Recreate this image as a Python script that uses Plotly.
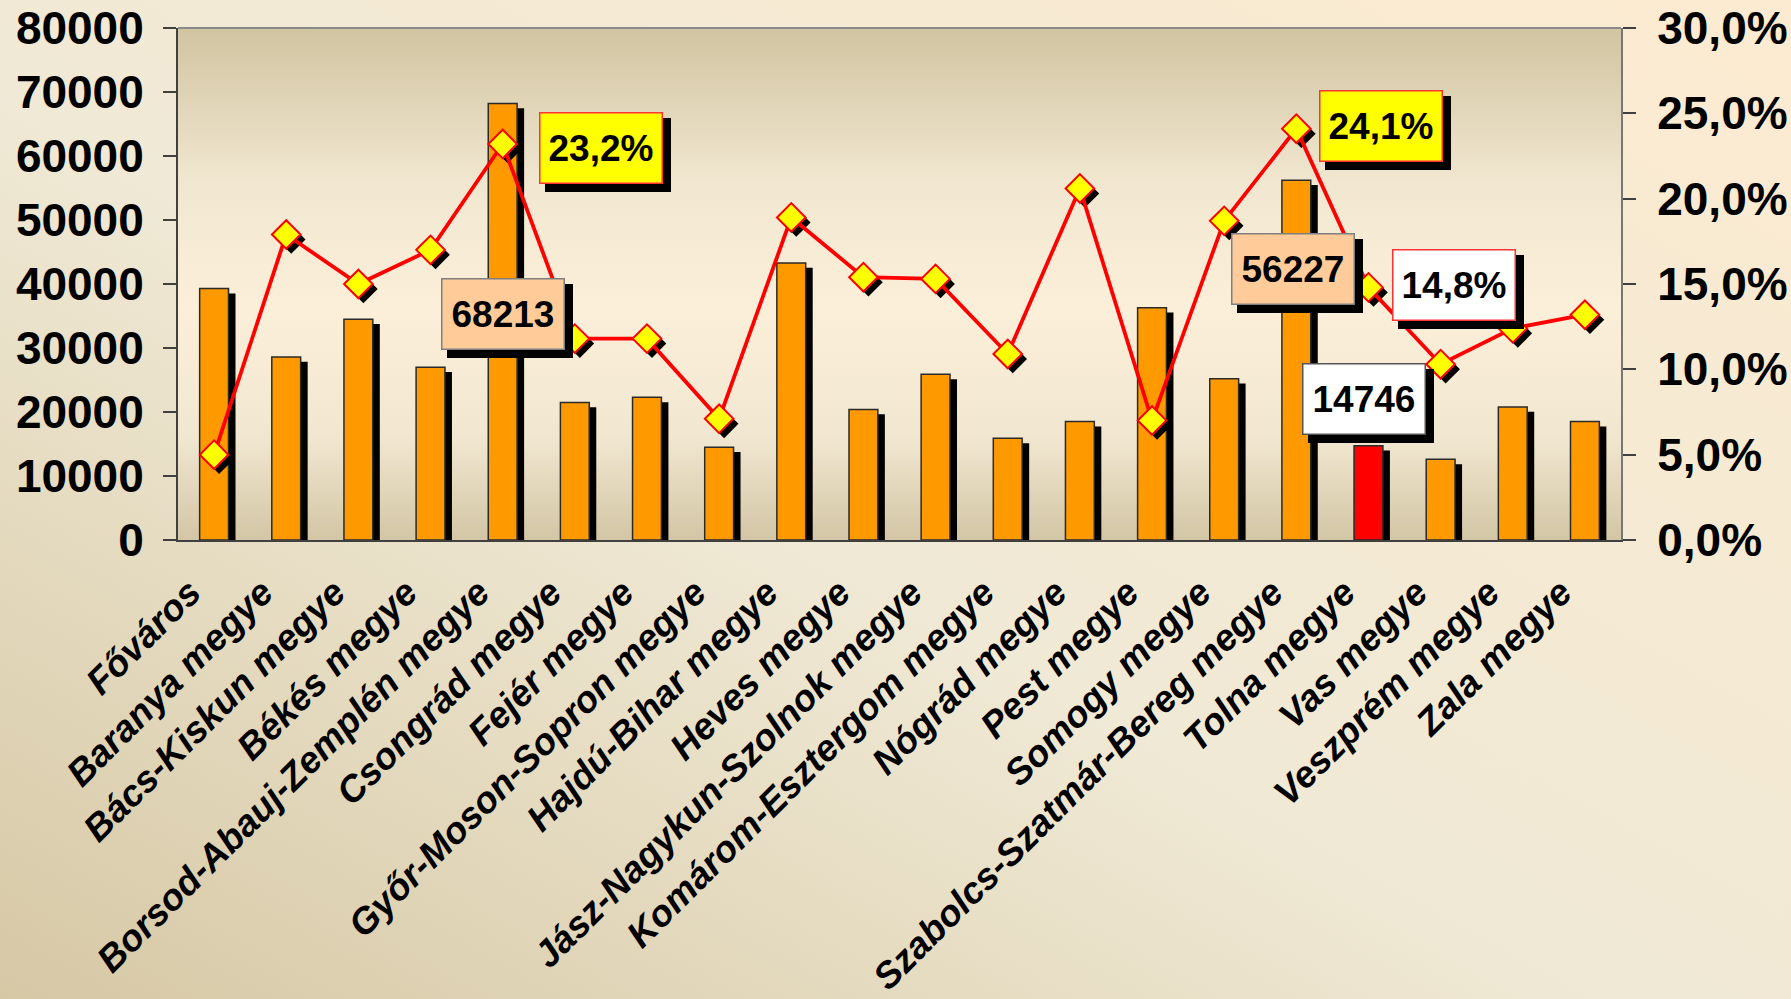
import base64
import plotly.graph_objects as go

# ==========================================
# Dados
# ==========================================

megyek = [
    'Főváros', 'Baranya megye', 'Bács-Kiskun megye', 'Békés megye',
    'Borsod-Abauj-Zemplén megye', 'Csongrád megye', 'Fejér megye',
    'Győr-Moson-Sopron megye', 'Hajdú-Bihar megye', 'Heves megye',
    'Jász-Nagykun-Szolnok megye', 'Komárom-Esztergom megye', 'Nógrád megye',
    'Pest megye', 'Somogy megye', 'Szabolcs-Szatmár-Bereg megye',
    'Tolna megye', 'Vas megye', 'Veszprém megye', 'Zala megye',
]

letszam = [
    39300, 28600, 34500, 27000, 68213, 21500, 22300, 14500, 43300, 20400,
    25900, 15900, 18500, 36300, 25200, 56227, 14746, 12600, 20800, 18500,
]

arany = [
    5.0, 17.9, 15.0, 17.0, 23.2, 11.8, 11.8, 7.1, 18.9, 15.4,
    15.3, 10.9, 20.6, 7.0, 18.7, 24.1, 14.8, 10.3, 12.4, 13.2,
]

kiemelt = 'Tolna megye'

bal_tengely = [0, 10000, 20000, 30000, 40000, 50000, 60000, 70000, 80000]
jobb_tengely = [0, 5, 10, 15, 20, 25, 30]
jobb_cimkek = [f'{v:.1f}%'.replace('.', ',') for v in jobb_tengely]

# ==========================================
# Stílus
# ==========================================

W, H = 1791, 999
M_L, M_R, M_T, M_B = 178, 170, 28, 459
PLOT_W = W - M_L - M_R
PLOT_H = H - M_T - M_B
N = len(megyek)
KAT_PX = PLOT_W / N

FONT = 'Liberation Sans, Arial, sans-serif'
NARANCS = '#FF9900'
PIROS = '#FF0000'
TENGELY = '#404040'

# árnyék eltolás pixelben
ARNYEK_BAR = 7
ARNYEK_PONT = 5
# kategória feliratok eltolása balra (pixel)
FELIRAT_BALRA = 24


def svg_kep(svg):
    return 'data:image/svg+xml;base64,' + base64.b64encode(svg.encode('utf-8')).decode('ascii')


hatter_lap = svg_kep(
    '<svg xmlns="http://www.w3.org/2000/svg" width="100" height="100" viewBox="0 0 100 100" '
    'preserveAspectRatio="none"><defs><linearGradient id="g" x1="0" y1="1" x2="1" y2="0">'
    '<stop offset="0" stop-color="#D6C8A5"/><stop offset="0.45" stop-color="#F0E9D5"/>'
    '<stop offset="1" stop-color="#FCEBD1"/></linearGradient></defs>'
    '<rect width="100" height="100" fill="url(#g)"/></svg>'
)

hatter_rajz = svg_kep(
    '<svg xmlns="http://www.w3.org/2000/svg" width="100" height="100" viewBox="0 0 100 100" '
    'preserveAspectRatio="none"><defs><linearGradient id="g" x1="0" y1="0" x2="0" y2="1">'
    '<stop offset="0" stop-color="#D1C4A1"/><stop offset="0.3" stop-color="#F1E7D0"/>'
    '<stop offset="0.55" stop-color="#FCEFD9"/><stop offset="0.8" stop-color="#F1E7D0"/>'
    '<stop offset="1" stop-color="#D3C6A6"/></linearGradient></defs>'
    '<rect width="100" height="100" fill="url(#g)"/></svg>'
)

x_pos = list(range(N))
dx_bar = ARNYEK_BAR / KAT_PX
dy_bar = ARNYEK_BAR * 0.7 * bal_tengely[-1] / PLOT_H
dx_pont = ARNYEK_PONT / KAT_PX
dy_pont = ARNYEK_PONT * jobb_tengely[-1] / PLOT_H

fig = go.Figure()

# oszlopok árnyéka
fig.add_trace(go.Bar(
    x=x_pos, y=[v - dy_bar for v in letszam],
    width=0.4, offset=-0.2 + dx_bar,
    marker=dict(color='black', line=dict(width=0)),
    hoverinfo='skip', showlegend=False,
))

# oszlopok
fig.add_trace(go.Bar(
    x=x_pos, y=letszam,
    width=0.4, offset=-0.2,
    marker=dict(
        color=[PIROS if m == kiemelt else NARANCS for m in megyek],
        line=dict(color='#2a2a2a', width=1.5),
    ),
    text=megyek, hovertemplate='%{text}<br>%{y}<extra></extra>',
    textposition='none', showlegend=False,
))

# pontok árnyéka
fig.add_trace(go.Scatter(
    x=[x + dx_pont for x in x_pos], y=[v - dy_pont for v in arany],
    yaxis='y2', mode='markers',
    marker=dict(symbol='diamond', size=22, color='black', line=dict(width=0)),
    hoverinfo='skip', showlegend=False,
))

# arány vonal
fig.add_trace(go.Scatter(
    x=x_pos, y=arany, yaxis='y2', mode='lines+markers',
    line=dict(color=PIROS, width=3.8),
    marker=dict(symbol='diamond', size=22, color='#FFFF00', line=dict(color=PIROS, width=2)),
    text=megyek, hovertemplate='%{text}<br>%{y:.1f}%<extra></extra>',
    showlegend=False,
))

# ==========================================
# Címkék (dobozok árnyékkal)
# ==========================================

cimkek = [
    # szöveg, x, y (bal tengely egységben), háttér, keret
    ('68213', 4.0, 35300, '#FFCC99', '#7F7F7F'),
    ('23,2%', 5.36, 61300, '#FFFF00', '#FF3333'),
    ('56227', 14.96, 42300, '#FFCC99', '#7F7F7F'),
    ('24,1%', 16.18, 64700, '#FFFF00', '#FF3333'),
    ('14,8%', 17.19, 39800, '#FFFFFF', '#FF3333'),
    ('14746', 15.94, 22000, '#FFFFFF', '#555555'),
]

annotations = []
for szoveg, x, y, bg, keret in cimkek:
    annotations.append(dict(
        x=x, y=y, xref='x', yref='y', text='', showarrow=False,
        width=124, height=72, bgcolor='black', borderwidth=0,
        xshift=ARNYEK_BAR, yshift=-ARNYEK_BAR,
    ))
    annotations.append(dict(
        x=x, y=y, xref='x', yref='y', text=szoveg, showarrow=False,
        width=121, height=69, bgcolor=bg, bordercolor=keret, borderwidth=1.5, borderpad=0,
        font=dict(family=FONT, size=37, color='black', weight='bold'),
    ))

tick_font = dict(family=FONT, size=46, color='black', weight='bold')
hatarok = [i - 0.5 for i in range(N + 1)]


def keresztezo_y(**kw):
    return dict(
        ticks='inside', ticklen=13, tickcolor=TENGELY, tickwidth=1.5,
        showticklabels=False, showgrid=False, zeroline=False, automargin=False, **kw
    )


fig.update_layout(
    width=W, height=H,
    margin=dict(l=M_L, r=M_R, t=M_T, b=M_B, autoexpand=False),
    paper_bgcolor='#F3EAD4',
    plot_bgcolor='rgba(0,0,0,0)',
    barmode='overlay',
    showlegend=False,
    xaxis=dict(
        range=[-0.5, N - 0.5],
        tickvals=[x - FELIRAT_BALRA / KAT_PX for x in x_pos], ticktext=megyek, tickangle=-45,
        ticks='', showgrid=False, zeroline=False, automargin=False,
        showline=True, linecolor=TENGELY, linewidth=2,
        tickfont=dict(family=FONT, size=37, color='black', weight='bold', style='italic'),
        ticklabelstandoff=14,
    ),
    xaxis2=dict(
        overlaying='x', anchor='y', range=[-0.5, N - 0.5],
        tickvals=hatarok, ticks='outside', ticklen=12,
        tickcolor=TENGELY, tickwidth=1.5, showticklabels=False, showgrid=False,
        zeroline=False, automargin=False,
    ),
    yaxis=dict(
        range=[0, bal_tengely[-1]], tickvals=bal_tengely, tickformat='d',
        ticks='outside', ticklen=13, tickcolor=TENGELY, tickwidth=1.5,
        showgrid=False, zeroline=False, showline=True, linecolor=TENGELY, linewidth=2,
        tickfont=tick_font, ticklabelstandoff=10, automargin=False,
    ),
    yaxis2=dict(
        range=[0, jobb_tengely[-1]], tickvals=jobb_tengely, ticktext=jobb_cimkek,
        overlaying='y', side='right',
        ticks='outside', ticklen=13, tickcolor=TENGELY, tickwidth=1.5,
        showgrid=False, zeroline=False, showline=True, linecolor='#777777', linewidth=2,
        tickfont=tick_font, ticklabelstandoff=12, automargin=False,
    ),
    yaxis3=keresztezo_y(range=[0, bal_tengely[-1]], tickvals=bal_tengely,
                        overlaying='y', side='left'),
    yaxis4=keresztezo_y(range=[0, jobb_tengely[-1]], tickvals=jobb_tengely,
                        overlaying='y', side='right'),
    images=[
        dict(source=hatter_lap, xref='paper', yref='paper',
             x=-M_L / PLOT_W, y=1 + M_T / PLOT_H, sizex=W / PLOT_W, sizey=H / PLOT_H,
             sizing='stretch', xanchor='left', yanchor='top', layer='below'),
        dict(source=hatter_rajz, xref='paper', yref='paper',
             x=0, y=1, sizex=1, sizey=1,
             sizing='stretch', xanchor='left', yanchor='top', layer='below'),
    ],
    shapes=[
        dict(type='line', xref='paper', yref='paper', x0=0, x1=1, y0=1, y1=1,
             line=dict(color='#8A8A8A', width=2)),
    ],
    annotations=annotations,
)

fig.write_html('out.html', config={'displayModeBar': False},
               post_script="document.body.style.margin='0';")
